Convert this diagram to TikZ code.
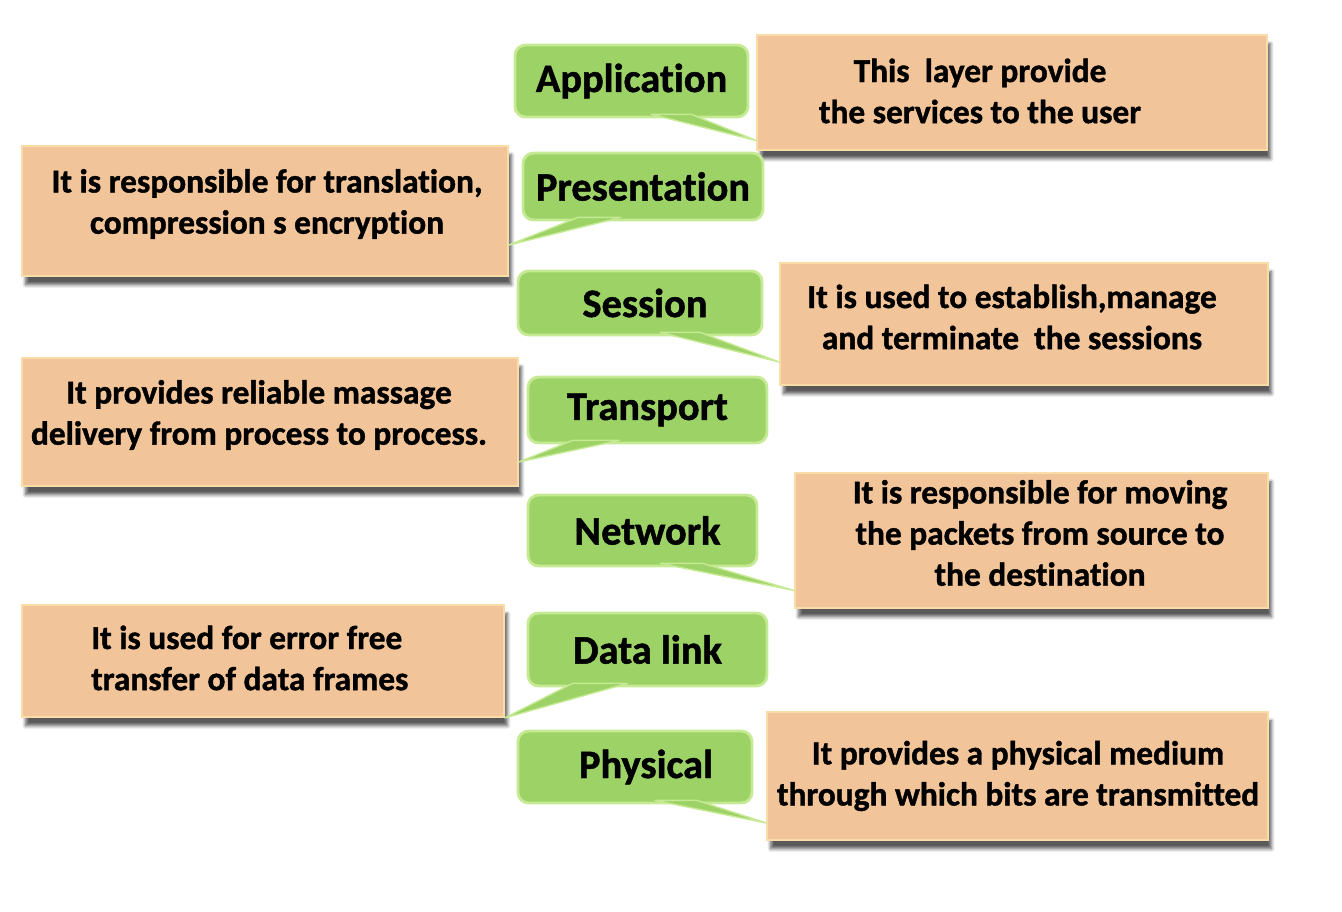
\documentclass[tikz,border=0pt]{standalone}
\usepackage{fontspec}
\setmainfont{Carlito}[Ligatures={NoCommon}, BoldFeatures={FakeBold=1.2}]
\usepackage{tikz}
\usetikzlibrary{calc, shadows.blur}

\definecolor{layergreen}{HTML}{9CD266}
\definecolor{layeredge}{HTML}{C6EA94}
\definecolor{desctan}{HTML}{F2C499}
\definecolor{descedge}{HTML}{F9DDA9}

\begin{document}
\begin{tikzpicture}[x=0.02cm, y=-0.02cm,
    layer/.style={draw=layeredge, fill=layergreen, line width=1.6pt, rounded corners=6pt,
      font=\fontsize{23}{28}\selectfont\bfseries},
    descbox/.style={draw=descedge, fill=desctan, line width=1pt,
      blur shadow={shadow xshift=2pt, shadow yshift=-5pt, shadow blur steps=6, shadow opacity=65}},
    desctext/.style={align=center, font=\fontsize{19}{23.4}\selectfont\bfseries},
    tail/.style={fill=layergreen, draw=layeredge, line width=0.8pt, line join=round},
]
  \useasboundingbox (0,0) rectangle (1342,912);

  % description boxes
  \node[descbox, minimum width=10.2cm, minimum height=2.3cm] (appdesc) at (1012,92.5) {};
  \node[descbox, minimum width=9.72cm, minimum height=2.6cm] (presdesc) at (265,211) {};
  \node[descbox, minimum width=9.76cm, minimum height=2.44cm] (sessdesc) at (1024,324) {};
  \node[descbox, minimum width=9.92cm, minimum height=2.56cm] (transdesc) at (270,422) {};
  \node[descbox, minimum width=9.46cm, minimum height=2.7cm] (netdesc) at (1031.5,540.5) {};
  \node[descbox, minimum width=9.64cm, minimum height=2.24cm] (dlinkdesc) at (263,661) {};
  \node[descbox, minimum width=10.02cm, minimum height=2.56cm] (physdesc) at (1017.5,776) {};

  \node[desctext] (apptext) at (980,91) {This\ \ layer provide\\the services to the user};
  \node[desctext] (prestext) at (267,204) {It is responsible for translation,\\compression s encryption};
  \node[desctext] (sesstext) at (1012,317) {It is used to establish,manage\\and terminate\ \ the sessions};
  \node[desctext] (transtext) at (259,415) {It provides reliable massage\\delivery from process to process.};
  \node[desctext] (nettext) at (1040,533) {It is responsible for moving\\the packets from source to\\the destination};
  \node[desctext, align=left, anchor=west] (dlinktext) at (85,658) {It is used for error free\\transfer of data frames};
  \node[desctext] (phystext) at (1018,776) {It provides a physical medium\\through which bits are transmitted};

  % layer boxes
  \node[layer, minimum width=4.66cm, minimum height=1.44cm] (app) at (631.5,81) {Application};
  \node[layer, minimum width=4.8cm, minimum height=1.34cm] (pres) at (643,186.5) {Presentation};
  \node[layer, minimum width=4.88cm, minimum height=1.28cm] (sess) at (640,303) {\hspace{0.2cm}Session};
  \node[layer, minimum width=4.78cm, minimum height=1.32cm] (trans) at (647.5,410) {Transport};
  \node[layer, minimum width=4.58cm, minimum height=1.42cm] (net) at (642.5,530.5) {\hspace{0.2cm}Network};
  \node[layer, minimum width=4.78cm, minimum height=1.46cm] (dlink) at (647.5,649.5) {Data link};
  \node[layer, minimum width=4.68cm, minimum height=1.44cm] (phys) at (635,767) {\hspace{0.44cm}Physical};

  % callout tails
  \filldraw[tail] ($(app.south)+(20,-4)$) -- ($(appdesc.west)+(0,48)$) -- ($(app.south)+(60,-4)$) -- cycle;
  \filldraw[tail] ($(pres.south)+(-65,-4)$) -- ($(presdesc.east)+(0,34)$) -- ($(pres.south)+(-22,-4)$) -- cycle;
  \filldraw[tail] ($(sess.south)+(20,-4)$) -- ($(sessdesc.west)+(0,38)$) -- ($(sess.south)+(60,-4)$) -- cycle;
  \filldraw[tail] ($(trans.south)+(-75,-4)$) -- ($(transdesc.east)+(0,40)$) -- ($(trans.south)+(-28,-4)$) -- cycle;
  \filldraw[tail] ($(net.south)+(18,-4)$) -- ($(netdesc.west)+(0,50)$) -- ($(net.south)+(60,-4)$) -- cycle;
  \filldraw[tail] ($(dlink.south)+(-75,-4)$) -- (dlinkdesc.south east) -- ($(dlink.south)+(-20,-4)$) -- cycle;
  \filldraw[tail] ($(phys.south)+(20,-4)$) -- ($(physdesc.west)+(0,47)$) -- ($(phys.south)+(62,-4)$) -- cycle;
\end{tikzpicture}
\end{document}
